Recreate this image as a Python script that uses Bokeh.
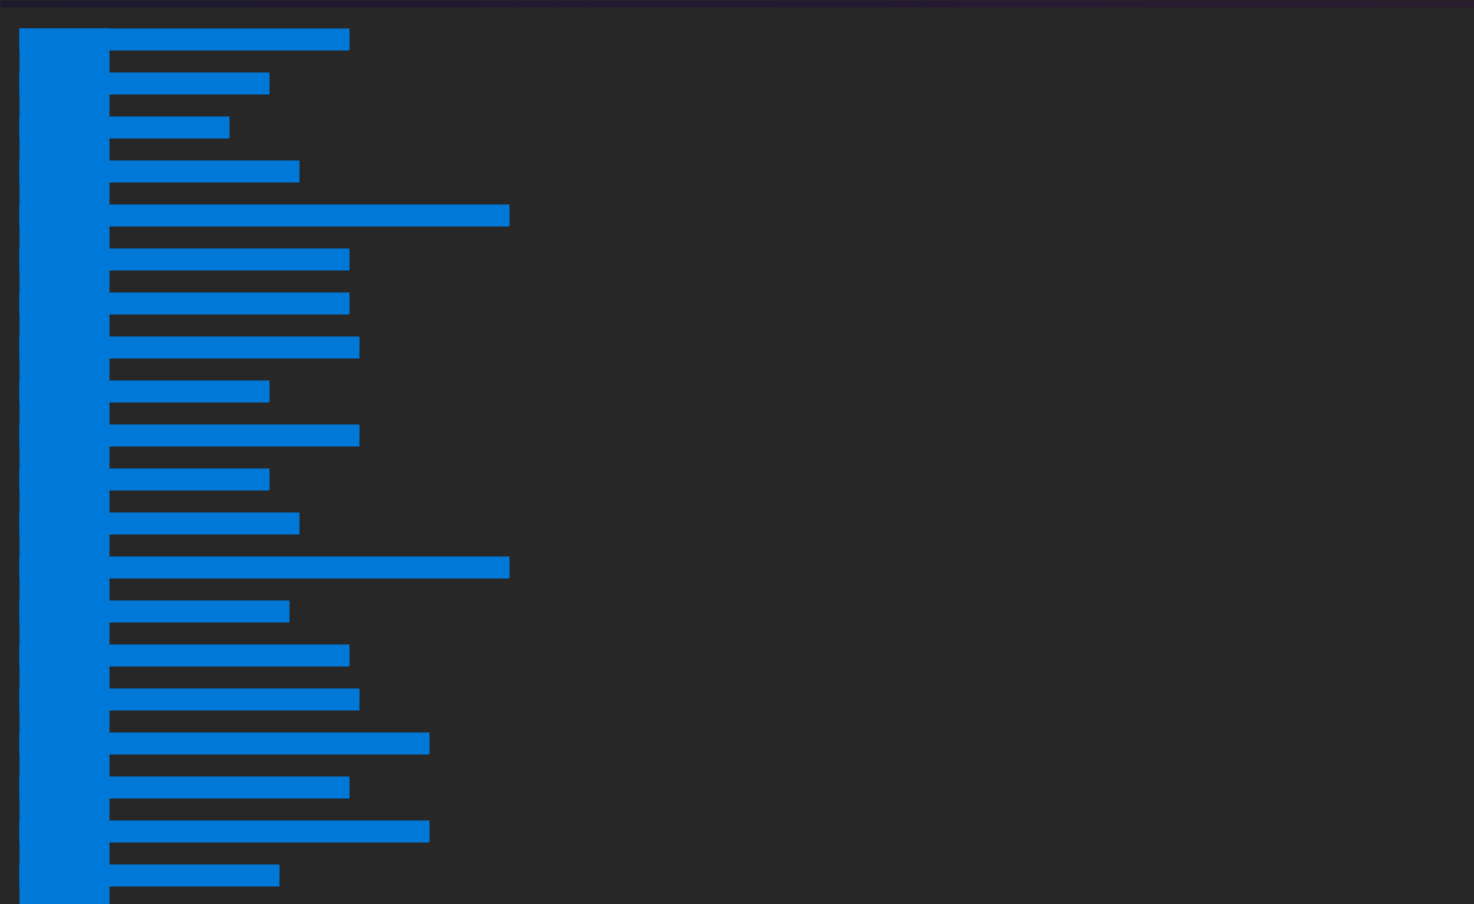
from bokeh.plotting import figure
from bokeh.models import Range1d, ColumnDataSource
from bokeh.embed import file_html
from bokeh.resources import INLINE

# Data (bar lengths, top to bottom)
rows = list(range(20))
values = [24, 16, 12, 19, 40, 24, 24, 25, 16, 25, 16, 19, 40, 18, 24, 25, 32, 24, 32, 17]
block_width = 9

BG = "#272727"
BLUE = "#0078d7"
W, H = 1474, 904
PX_X = 10.0          # pixels per value unit
ROW = 44.0           # pixels per row
x0 = -(109 / PX_X)   # left edge of frame in data units
y_top = -(39 / ROW)  # top edge of frame in row units
y_bot = (H - 39) / ROW

p = figure(width=W, height=H, output_backend="svg", toolbar_location=None,
           x_range=Range1d(x0, x0 + W / PX_X), y_range=Range1d(y_bot, y_top),
           min_border=0, background_fill_color=BG, border_fill_color=BG,
           outline_line_color=None)
p.axis.visible = False
p.grid.visible = False

# thin dark header strip (decoration) with a soft left-to-right gradient
stops = [(0.0, (30, 26, 46)), (0.5, (34, 26, 51)), (1.0, (42, 29, 48))]
n = 40
lefts, rights, cols = [], [], []
for k in range(n):
    t = (k + 0.5) / n
    for (t0, c0), (t1, c1) in zip(stops[:-1], stops[1:]):
        if t0 <= t <= t1:
            f = (t - t0) / (t1 - t0)
            c = tuple(int(round(a + (b - a) * f)) for a, b in zip(c0, c1))
            break
    lefts.append(x0 + k * W / PX_X / n)
    rights.append(x0 + (k + 1) * W / PX_X / n + 0.05)
    cols.append("#%02x%02x%02x" % c)
p.quad(left=lefts, right=rights, top=y_top, bottom=y_top + 7 / ROW,
       fill_color=cols, line_color=None)

src = ColumnDataSource(dict(y=rows, right=values))
p.hbar(y="y", left=-block_width, right="right", height=0.5, source=src,
       fill_color=BLUE, line_color=None)
p.quad(left=[-block_width], right=[0], top=[-0.25], bottom=[len(rows) + 0.25],
       fill_color=BLUE, line_color=None)

html = file_html(p, INLINE)
html = html.replace("</head>", "<style>html, body { background: #272727; }</style></head>", 1)
open("out.html", "w").write(html)
